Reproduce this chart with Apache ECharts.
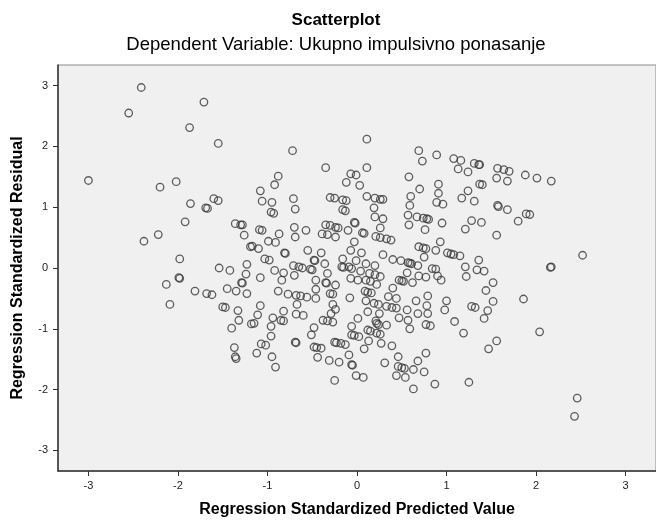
<!DOCTYPE html>
<html>
<head>
<meta charset="utf-8">
<script src="https://cdn.jsdelivr.net/npm/echarts@6/dist/echarts.min.js"></script>
<style>
html, body { margin: 0; padding: 0; background: #fff; }
#chart { width: 656px; height: 523px; }
</style>
</head>
<body>
<div id="chart"></div>
<script>
// standardized predicted value (x) and standardized residual (y)
var predicted = [
  -2.41, -1.71, -2.55, -1.87, -1.55, -3.00, -2.20, -2.02, -1.86, -1.60, -1.55,
  -1.69, -1.67, -1.92, -1.36, -1.30, -1.28, -2.22, -2.38, -1.26, -1.19, -1.98, -1.54, -1.42, -1.23, -1.24,
  -1.99, -1.98, -2.13, -1.29, -1.28, -1.81, -1.68, -1.62, -1.45, -1.35, -1.23, -2.09, -1.50, -1.47, -1.33,
  -1.32, -1.40, -1.18, -1.37, -1.36, -1.35,
  0.11, -0.72, 0.69, 0.73, 0.89, -0.35, 0.11, -0.07, -0.01, -0.12, 0.03, -0.88, -0.92, -1.08, 0.58, 0.70,
  0.91, 0.91, 0.60, -0.71, -1.06, -0.95, -0.30, -0.25, -0.16, -0.12, 0.11, 0.20, 0.26, 0.29, 0.89,
  1.08, 1.16, 1.31, 1.36, 1.37, 1.13, 1.24, 1.57, 1.64, 1.70, 1.88, 2.01, 2.17, 1.56, 1.68, 1.37, 1.40,
  1.24, 1.17, 1.31, 1.57, 1.58,
  0.96, 1.68, 1.89, 1.93, 1.80, 1.28, 1.39, 1.21, 0.95, 1.56, 0.93, 1.01, 1.05, 1.08, 1.15, 1.36, 1.21,
  1.34, 1.42, 1.22, 2.52, 2.16, 2.17, 0.94, 1.52, 1.44, 1.86, 1.00, 1.52, 1.28, 1.32, 0.98, 1.46, 1.42,
  1.09, 2.04, 1.19, 1.56,
  1.47, 1.25, 2.46, 2.43,
  -1.12, -1.07, -1.02, -0.95, -0.91, -0.69, -0.68, -0.48, -0.45, -0.40, -0.44, -0.31, -0.20, -0.25, -0.23,
  -0.18, -0.13, -0.09, -0.06, -0.05, -0.25, -0.01, 0.07, 0.08, 0.13, 0.27, 0.39, 0.31, 0.46, 0.46, 0.50,
  0.53, 0.44, 0.54, 0.63, 0.68, 0.77, 0.75, 0.63, 0.87,
  -0.96, -0.93, -0.69, -0.16, -0.13, 0.19, 0.59, 0.57, 0.67, 0.74, 0.78, 0.80, 0.58, 0.76, 0.88, 0.20,
  0.29, 0.26, -0.03, -0.02, -0.10, -0.35, -0.30, -0.24, -0.21, -0.39, -0.33, -0.24, 0.06, 0.08, 0.21,
  0.26, 0.33, 0.38, -0.70, -0.69, -0.57, -0.87, -1.09, -1.06, -0.99, -0.91, -1.17, -1.10, -0.81, -0.80,
  -0.55, -0.40, -1.03, -0.98, -0.48, -0.47, -0.36, -0.16, -0.07, -0.03, 0.05, -0.01, 0.10, 0.20, 0.29,
  0.40, 0.49, 0.57, 0.59, 0.61, 0.68, 0.69, 0.74, 0.77, 0.75, 0.84, 0.88, 0.90, 0.69, 0.77, 0.56, 0.47,
  0.50, 0.52, 0.62, 0.40, 0.26, 0.20, 0.14, 0.04, 0.10, 0.15, 0.22, 0.01, -0.07, -0.17, -0.15, -0.33,
  -0.46, -0.35, -0.34, -0.24, -0.46, -0.71, -0.65, -0.61, -0.52, -0.50, -0.82, -0.92, -0.84, -0.70,
  -1.08, -0.88, -0.77, -0.68, -0.63, -0.56, -0.46, -0.30, -0.27, -0.08, 0.09, 0.12, 0.16, 0.10, 0.19,
  0.24, 0.35, 0.44, 0.33, 0.39, 0.44, 0.56, 0.66, 0.79, 0.78, 0.79, 0.68, 0.47, 0.57, 0.77, 0.82, 0.59,
  0.33, 0.22, 0.24, 0.25, 0.12, 0.01, -0.06, 0.12, 0.15, 0.22, 0.26, -0.06, -0.03, 0.02, -0.27, -0.24,
  -0.29, -0.38, -0.33, -0.27, -0.48, -0.51, -0.67, -0.68, -0.60, -0.82, -0.85, -0.82, -0.94, -1.08,
  -1.11, -1.15, -0.96, -0.96, 0.21, -0.09, -0.06
];
var residual = [
  2.97, 2.73, 2.55, 2.31, 2.05, 1.44, 1.33, 1.42, 1.06, 1.14, 1.11,
  0.99, 0.98, 0.76, 0.73, 0.71, 0.71, 0.55, 0.44, 0.54, 0.35, 0.15, 0.00, -0.04, 0.06, -0.10,
  -0.16, -0.17, -0.27, -0.24, -0.25, -0.38, -0.42, -0.44, -0.34, -0.38, -0.42, -0.60, -0.64, -0.65, -0.70,
  -0.86, -0.99, -0.92, -1.31, -1.46, -1.49,
  2.12, 1.93, 1.93, 1.76, 1.86, 1.65, 1.65, 1.55, 1.53, 1.41, 1.36, 1.51, 1.37, 1.27, 1.50, 1.30,
  1.38, 1.23, 1.18, 1.14, 1.10, 1.08, 1.16, 1.15, 1.12, 1.11, 1.18, 1.15, 1.13, 1.13, 1.08,
  1.80, 1.77, 1.72, 1.70, 1.70, 1.63, 1.58, 1.64, 1.62, 1.59, 1.53, 1.48, 1.43, 1.48, 1.43, 1.38, 1.37,
  1.27, 1.15, 1.10, 1.03, 1.01,
  1.05, 0.96, 0.89, 0.88, 0.77, 0.78, 0.75, 0.64, 0.74, 0.54, 0.43, 0.25, 0.23, 0.22, 0.20, 0.13, 0.02,
  -0.03, -0.05, -0.14, 0.21, 0.01, 0.02, -0.20, -0.24, -0.37, -0.51, -0.54, -0.55, -0.63, -0.65, -0.69,
  -0.70, -0.83, -0.88, -1.05, -1.07, -1.20,
  -1.33, -1.88, -2.14, -2.44,
  -1.40, -1.25, -1.27, -1.46, -1.63, -1.22, -1.23, -1.30, -1.31, -1.32, -1.47, -1.52, -1.55, -1.22, -1.23,
  -1.24, -1.26, -1.43, -1.59, -1.60, -1.85, -1.77, -1.80, -1.33, -1.20, -1.24, -1.28, -1.56, -1.46, -1.62,
  -1.64, -1.65, -1.77, -1.80, -1.67, -1.53, -1.40, -1.71, -1.99, -1.91,
  0.92, 0.90, 0.97, 0.96, 0.94, 0.99, 1.03, 0.87, 0.84, 0.82, 0.81, 0.80, 0.71, 0.63, 0.29, 0.84,
  0.81, 0.66, 0.75, 0.74, 0.62, 0.71, 0.70, 0.67, 0.66, 0.56, 0.55, 0.51, 0.58, 0.57, 0.52,
  0.50, 0.48, 0.46, 0.67, 0.51, 0.62, 0.56, 0.63, 0.62, 0.44, 0.42, 0.36, 0.32, 0.25, 0.24,
  0.29, 0.25, 0.15, 0.13, 0.13, 0.12, 0.07, 0.15, 0.29, 0.43, 0.25, 0.12, 0.07, 0.04, 0.22,
  0.14, 0.12, 0.09, 0.08, 0.07, 0.04, 0.35, 0.33, 0.32, 0.18, -0.01, -0.02, -0.13, -0.13, -0.15, -0.08, -0.20,
  -0.21, -0.22, -0.24, -0.33, -0.14, -0.11, -0.09, -0.05, -0.20, -0.22, -0.27, -0.20, -0.17, 0.02, 0.01, -0.09,
  -0.20, -0.24, -0.25, -0.28, -0.35, 0.04, 0.02, 0.00, -0.02, -0.03, -0.08, -0.04, -0.20, -0.12,
  -0.16, -0.38, -0.43, -0.45, -0.46, -0.48, -0.50, -0.42, -0.43, -0.49, -0.38, -0.40, -0.41, -0.54, -0.58,
  -0.60, -0.47, -0.50, -0.63, -0.65, -0.66, -0.69, -0.54, -0.46, -0.62, -0.75, -0.75, -0.82, -0.86, -0.93, -0.95, -1.00,
  -0.94, -0.91, -0.93, -0.75, -0.72, -0.83, -0.96, -1.02, -1.04, -1.07, -1.09, -1.10, -1.11, -1.13, -0.60, -0.68,
  -0.75, -0.86, -0.87, -0.89, -0.98, -1.10, -0.60, -0.76, -0.78, -0.71, -0.86, -0.87, -0.82, -0.62,
  -0.77, -0.91, -0.96, -1.12, -0.87, 0.02, -0.01
];
var tickValues = [-3, -2, -1, 0, 1, 2, 3];

var chart = echarts.init(document.getElementById('chart'));
var points = [];
for (var i = 0; i < predicted.length; i++) {
  points.push([predicted[i], residual[i]]);
}
var font = 'Liberation Sans, Arial, sans-serif';

var option = {
  animation: false,
  backgroundColor: '#fff',
  title: [{
    text: 'Scatterplot',
    left: 331,
    textAlign: 'center',
    top: 7,
    textStyle: { fontFamily: font, fontSize: 17, fontWeight: 'bold', color: '#000' }
  }, {
    text: 'Dependent Variable: Ukupno impulsivno ponasanje',
    left: 331,
    textAlign: 'center',
    top: 30,
    textStyle: { fontFamily: font, fontSize: 18.5, fontWeight: 'normal', color: '#000' }
  }],
  grid: {
    left: 58, top: 65, width: 607, height: 408,
    show: true, backgroundColor: '#f0f0f0', borderColor: '#8a8a8a', borderWidth: 1
  },
  xAxis: {
    type: 'value', min: -3.34, max: 3.34,
    name: 'Regression Standardized Predicted Value',
    nameLocation: 'middle', nameGap: 31,
    nameTextStyle: { fontFamily: font, fontSize: 16, fontWeight: 'bold', color: '#000' },
    axisLine: { onZero: false, lineStyle: { color: '#333', width: 1.5 } },
    axisTick: { customValues: tickValues, length: 5, lineStyle: { color: '#333' } },
    axisLabel: { customValues: tickValues, fontFamily: font, fontSize: 11, color: '#222', margin: 9 },
    splitLine: { show: false }
  },
  yAxis: {
    type: 'value', min: -3.34, max: 3.34,
    name: 'Regression Standardized Residual',
    nameLocation: 'middle', nameGap: 32,
    nameTextStyle: { fontFamily: font, fontSize: 16, fontWeight: 'bold', color: '#000' },
    axisLine: { onZero: false, lineStyle: { color: '#333', width: 1.5 } },
    axisTick: { customValues: tickValues, length: 5, lineStyle: { color: '#333' } },
    axisLabel: { customValues: tickValues, fontFamily: font, fontSize: 11, color: '#222', margin: 10 },
    splitLine: { show: false }
  },
  series: [{
    type: 'scatter',
    data: points,
    symbol: 'circle',
    symbolSize: 7.5,
    itemStyle: { color: 'rgba(0,0,0,0)', borderColor: '#383838', borderWidth: 1.3 }
  }]
};
chart.setOption(option);
</script>
</body>
</html>
